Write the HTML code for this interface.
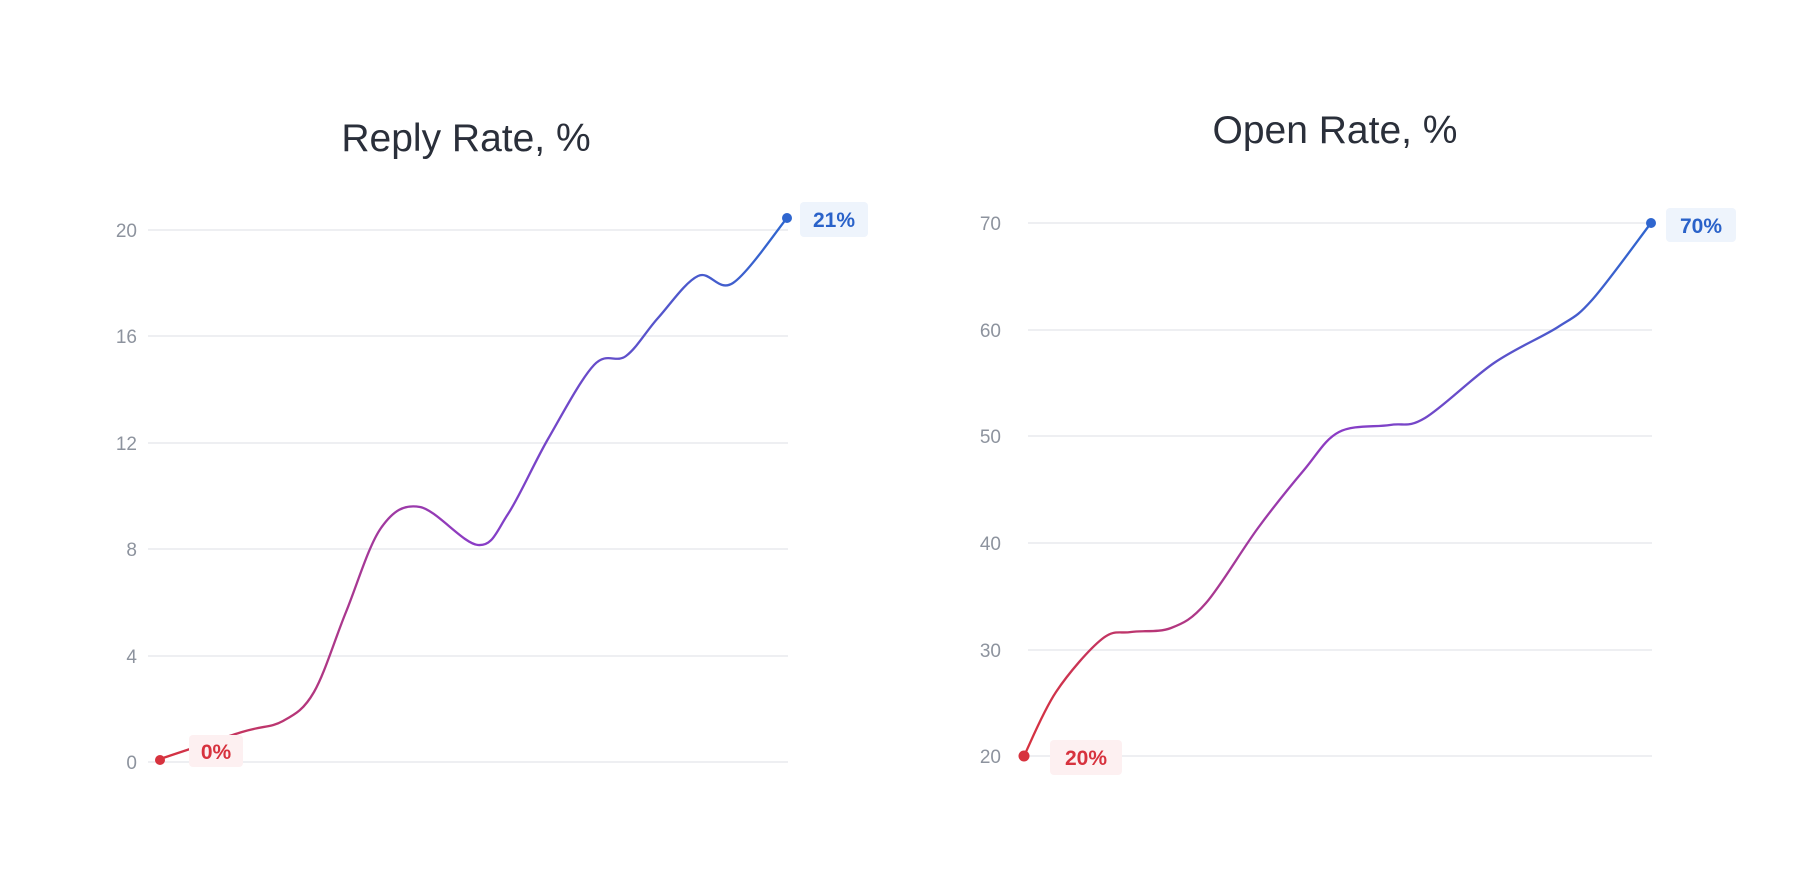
<!DOCTYPE html>
<html><head><meta charset="utf-8"><style>
html,body{margin:0;padding:0;background:#fff;}
svg{display:block;font-family:"Liberation Sans",sans-serif;}
.t{font-size:19px;fill:#8d939e;text-anchor:end;}
.g{stroke:#e3e5ea;stroke-width:1.3;}
</style></head><body>
<svg width="1800" height="884" viewBox="0 0 1800 884">
<defs>
<linearGradient id="gl" x1="160" y1="0" x2="787" y2="0" gradientUnits="userSpaceOnUse">
<stop offset="0" stop-color="#d7323e"/><stop offset="0.5" stop-color="#8b3cc6"/><stop offset="1" stop-color="#2f66cf"/></linearGradient>
<linearGradient id="gr" x1="1024" y1="0" x2="1651" y2="0" gradientUnits="userSpaceOnUse">
<stop offset="0" stop-color="#d7323e"/><stop offset="0.5" stop-color="#8b3cc6"/><stop offset="1" stop-color="#2f66cf"/></linearGradient>
</defs>
<text x="466" y="151" font-size="39" fill="#2a2f3a" text-anchor="middle">Reply Rate, %</text>
<text x="1335" y="143" font-size="39" fill="#2a2f3a" text-anchor="middle">Open Rate, %</text>
<g class="g">
<line x1="148" x2="788" y1="230" y2="230"/><line x1="148" x2="788" y1="336" y2="336"/>
<line x1="148" x2="788" y1="443" y2="443"/><line x1="148" x2="788" y1="549" y2="549"/>
<line x1="148" x2="788" y1="656" y2="656"/><line x1="148" x2="788" y1="762" y2="762"/>
</g>
<g class="t">
<text x="137" y="237">20</text><text x="137" y="343">16</text><text x="137" y="450">12</text>
<text x="137" y="556">8</text><text x="137" y="663">4</text><text x="137" y="769">0</text>
</g>
<g class="g">
<line x1="1028" x2="1652" y1="223" y2="223"/><line x1="1028" x2="1652" y1="330" y2="330"/>
<line x1="1028" x2="1652" y1="436" y2="436"/><line x1="1028" x2="1652" y1="543" y2="543"/>
<line x1="1028" x2="1652" y1="650" y2="650"/><line x1="1028" x2="1652" y1="756" y2="756"/>
</g>
<g class="t">
<text x="1001" y="230">70</text><text x="1001" y="337">60</text><text x="1001" y="443">50</text>
<text x="1001" y="550">40</text><text x="1001" y="657">30</text><text x="1001" y="763">20</text>
</g>
<path id="pl" fill="none" stroke="url(#gl)" stroke-width="2.3" d=""/>
<path id="pr" fill="none" stroke="url(#gr)" stroke-width="2.3" d=""/>
<circle cx="160" cy="760" r="5" fill="#d7323e"/>
<circle cx="787" cy="218" r="5" fill="#2f66cf"/>
<circle cx="1024" cy="756" r="5.5" fill="#d7323e"/>
<circle cx="1651" cy="223" r="5" fill="#2f66cf"/>
<rect x="189" y="735" width="54" height="32" rx="4" fill="#fdf0f1"/>
<text x="216" y="759" font-size="21" font-weight="bold" fill="#d7323e" text-anchor="middle">0%</text>
<rect x="800" y="202" width="68" height="35" rx="4" fill="#eef4fc"/>
<text x="834" y="227" font-size="21" font-weight="bold" fill="#2a62c9" text-anchor="middle">21%</text>
<rect x="1050" y="740" width="72" height="35" rx="4" fill="#fdf0f1"/>
<text x="1086" y="765" font-size="21" font-weight="bold" fill="#d7323e" text-anchor="middle">20%</text>
<rect x="1666" y="208" width="70" height="34" rx="4" fill="#eef4fc"/>
<text x="1701" y="233" font-size="21" font-weight="bold" fill="#2a62c9" text-anchor="middle">70%</text>
</svg>
<script>
function cr(p){var d="M"+p[0][0]+","+p[0][1];for(var i=0;i<p.length-1;i++){var a=p[i-1]||p[i],b=p[i],c=p[i+1],e=p[i+2]||c;
d+=" C"+(b[0]+(c[0]-a[0])/6)+","+(b[1]+(c[1]-a[1])/6)+" "+(c[0]-(e[0]-b[0])/6)+","+(c[1]-(e[1]-b[1])/6)+" "+c[0]+","+c[1];}return d;}
var L=[[160,759],[242,732],[283,721],[314,692],[346,612],[381,528],[420,507],[478,545],[508,514],[548,439],[594,365],[626,356],[658,318],[698,276],[733,283],[787,218]];
var R=[[1024,756],[1056,692],[1102,639],[1131,632],[1171,628],[1206,603],[1258,528],[1304,470],[1339,432],[1390,425],[1425,418],[1494,363],[1558,327],[1592,300],[1651,223]];
document.getElementById("pl").setAttribute("d",cr(L));
document.getElementById("pr").setAttribute("d",cr(R));
</script>
</body></html>
